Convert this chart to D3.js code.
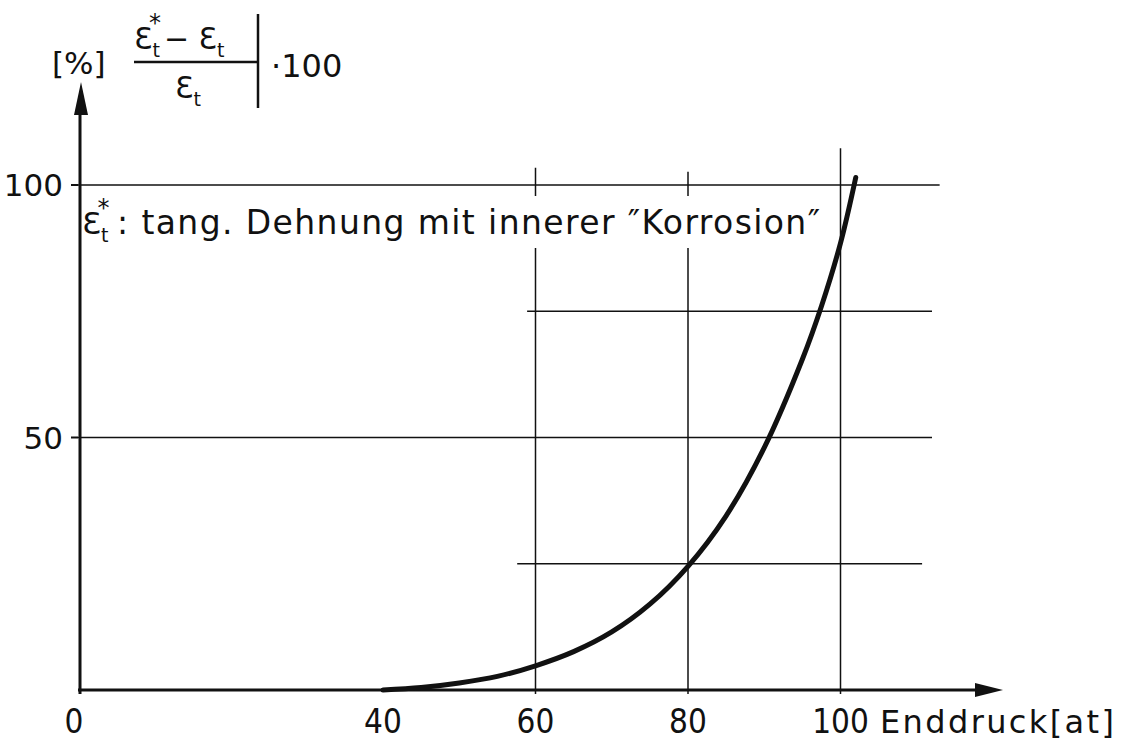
<!DOCTYPE html>
<html>
<head>
<meta charset="utf-8">
<script src="https://cdn.jsdelivr.net/npm/d3@7"></script>
<style>
  html, body { margin: 0; padding: 0; background: #fff; }
  svg { display: block; }
  text { font-family: "DejaVu Sans", sans-serif; fill: #111; }
  .cond { font-family: "DejaVu Sans Condensed", "DejaVu Sans", sans-serif; }
</style>
</head>
<body>
<svg id="chart" width="1124" height="744"></svg>
<script>
// Relative deviation of tangential strain vs. end pressure
const pressure = [40, 45, 50, 55, 60, 65, 70, 75, 80, 85, 90, 95, 97.5, 100, 102];
const deviation = [0, 0.5, 1.4, 2.7, 4.8, 7.6, 11.5, 17, 24.5, 34.5, 48, 65.5, 76, 88.5, 101.5];
const xTickValues = [40, 60, 80, 100];
const xTickLabels = ["40", "60", "80", "100"];
const yTickValues = [50, 100];
const yTickLabels = ["50", "100"];

const svg = d3.select("#chart");
const x = d3.scaleLinear().domain([0, 100]).range([78, 840.5]);
const y = d3.scaleLinear().domain([0, 100]).range([690, 185]);
const ink = "#111";

// grid lines (data units)
const hGrid = [
  {v: 100, from: 0, to: 113},
  {v: 75, from: 58.9, to: 112},
  {v: 50, from: 0, to: 112},
  {v: 25, from: 57.6, to: 110.7}
];
const vGrid = [
  {v: 60, from: -0.8, to: 103.4},
  {v: 80, from: -0.8, to: 102.6},
  {v: 100, from: -0.8, to: 107.3}
];
const g = svg.append("g").attr("stroke", ink).attr("stroke-width", 1.5);
g.selectAll("line.h").data(hGrid).join("line")
  .attr("x1", d => x(d.from)).attr("x2", d => x(d.to))
  .attr("y1", d => y(d.v)).attr("y2", d => y(d.v));
g.selectAll("line.v").data(vGrid).join("line")
  .attr("x1", d => x(d.v)).attr("x2", d => x(d.v))
  .attr("y1", d => y(d.from)).attr("y2", d => y(d.to));

// y-axis ticks
svg.append("g").selectAll("line").data(yTickValues).join("line")
  .attr("x1", x(0) - 7).attr("x2", x(0))
  .attr("y1", d => y(d)).attr("y2", d => y(d))
  .attr("stroke", ink).attr("stroke-width", 2);

// white band behind the annotation
svg.append("rect").attr("x", 92).attr("y", 196).attr("width", 735).attr("height", 52).attr("fill", "#fff");

// axes
svg.append("line").attr("x1", x(0)).attr("x2", 985).attr("y1", y(0)).attr("y2", y(0))
  .attr("stroke", ink).attr("stroke-width", 3);
svg.append("line").attr("x1", x(0) + 2).attr("x2", x(0) + 2).attr("y1", y(0) + 4).attr("y2", 100)
  .attr("stroke", ink).attr("stroke-width", 3);
svg.append("path").attr("d", "M1003,690 L975,683 L975,697 Z").attr("fill", ink);
svg.append("path").attr("d", "M81,82 L74,115 L88,115 Z").attr("fill", ink);

// curve
const line = d3.line().x((d, i) => x(pressure[i])).y(d => y(d)).curve(d3.curveCatmullRom);
svg.append("path").datum(deviation).attr("d", line)
  .attr("fill", "none").attr("stroke", ink).attr("stroke-width", 5).attr("stroke-linecap", "round");

// tick labels
svg.append("text").attr("class", "cond").attr("x", 74).attr("y", 733).attr("text-anchor", "middle")
  .attr("font-size", 33).text("0");
svg.append("g").selectAll("text").data(xTickValues).join("text")
  .attr("class", "cond")
  .attr("x", d => x(d)).attr("y", 733).attr("text-anchor", "middle")
  .attr("font-size", 33).text((d, i) => xTickLabels[i]);
svg.append("text").attr("x", 880).attr("y", 733).attr("font-size", 32)
  .attr("textLength", 234).attr("lengthAdjust", "spacing").text("Enddruck[at]");
svg.append("g").selectAll("text").data(yTickValues).join("text")
  .attr("x", 63).attr("y", d => y(d) + 11).attr("text-anchor", "end")
  .attr("font-size", 31).text((d, i) => yTickLabels[i]);

// y-axis title: [%] |(ε*t − εt)/εt| · 100
svg.append("text").attr("x", 52).attr("y", 74).attr("font-size", 31).text("[%]");
const num = svg.append("text").attr("x", 134).attr("y", 49).attr("font-size", 30);
num.append("tspan").text("Ɛ");
num.append("tspan").attr("font-size", 19).attr("dy", 8).text("t");
num.append("tspan").attr("font-size", 24).attr("dx", -11).attr("dy", -26).text("*");
num.append("tspan").attr("dy", 18).attr("dx", 3).text("− Ɛ");
num.append("tspan").attr("font-size", 19).attr("dy", 8).text("t");
svg.append("line").attr("x1", 134).attr("x2", 258).attr("y1", 62).attr("y2", 62)
  .attr("stroke", ink).attr("stroke-width", 2.5);
const den = svg.append("text").attr("x", 175).attr("y", 98).attr("font-size", 30);
den.append("tspan").text("Ɛ");
den.append("tspan").attr("font-size", 19).attr("dy", 8).text("t");
svg.append("line").attr("x1", 258).attr("x2", 258).attr("y1", 14).attr("y2", 108)
  .attr("stroke", ink).attr("stroke-width", 2.5);
svg.append("text").attr("x", 271).attr("y", 77).attr("font-size", 32).text("·100");

// annotation
const ann = svg.append("text").attr("x", 82).attr("y", 234).attr("font-size", 31);
ann.append("tspan").text("Ɛ");
ann.append("tspan").attr("font-size", 19).attr("dy", 8).text("t");
ann.append("tspan").attr("font-size", 24).attr("dx", -11).attr("dy", -26).text("*");
svg.append("text").attr("x", 117).attr("y", 234).attr("font-size", 33)
  .attr("textLength", 703).attr("lengthAdjust", "spacing")
  .text(": tang. Dehnung mit innerer ″Korrosion″");
</script>
</body>
</html>
